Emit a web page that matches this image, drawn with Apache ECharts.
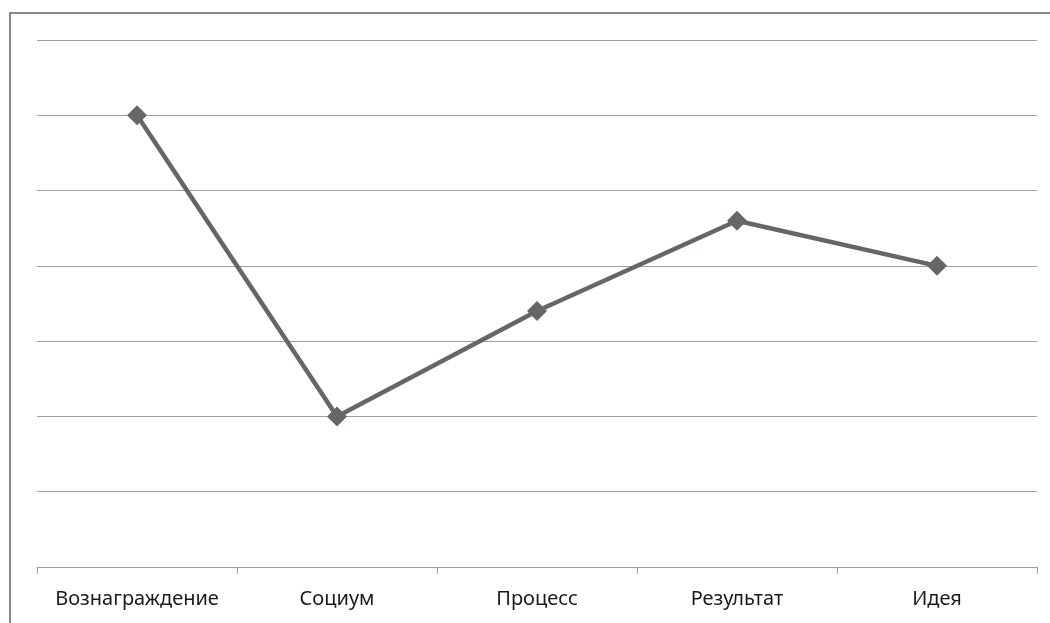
<!DOCTYPE html>
<html>
<head>
<meta charset="utf-8">
<style>
  html, body { margin: 0; padding: 0; background: #fff; }
  #chart { width: 1050px; height: 623px; }
</style>
<script src="https://cdn.jsdelivr.net/npm/echarts@6/dist/echarts.min.js"></script>
</head>
<body>
<div id="chart"></div>
<script>
const categories = ['Вознаграждение', 'Социум', 'Процесс', 'Результат', 'Идея'];
const values = [6, 2, 3.4, 4.6, 4];

const chart = echarts.init(document.getElementById('chart'));
chart.setOption({
  animation: false,
  backgroundColor: '#ffffff',
  graphic: [{
    type: 'rect',
    shape: { x: 10, y: 13, width: 1200, height: 800 },
    style: { fill: 'none', stroke: '#878787', lineWidth: 2 },
    z: 0
  }],
  grid: { left: 37, right: 13, top: 40, bottom: 56 },
  xAxis: {
    type: 'category',
    data: categories,
    boundaryGap: true,
    axisLine: { lineStyle: { color: '#a0a0a0', width: 1 } },
    axisTick: { show: true, length: 7, lineStyle: { color: '#a0a0a0' } },
    axisLabel: { color: '#1a1a1a', fontSize: 20, fontFamily: 'Noto Sans', margin: 22, interval: 0 }
  },
  yAxis: {
    type: 'value',
    min: 0, max: 7, interval: 1,
    axisLabel: { show: false },
    axisLine: { show: false },
    axisTick: { show: false },
    splitLine: { lineStyle: { color: '#a0a0a0', width: 1 } }
  },
  series: [{
    type: 'line',
    data: values,
    symbol: 'diamond',
    symbolSize: 20,
    lineStyle: { color: '#646768', width: 4.5 },
    itemStyle: { color: '#646768' }
  }]
});
</script>
</body>
</html>
